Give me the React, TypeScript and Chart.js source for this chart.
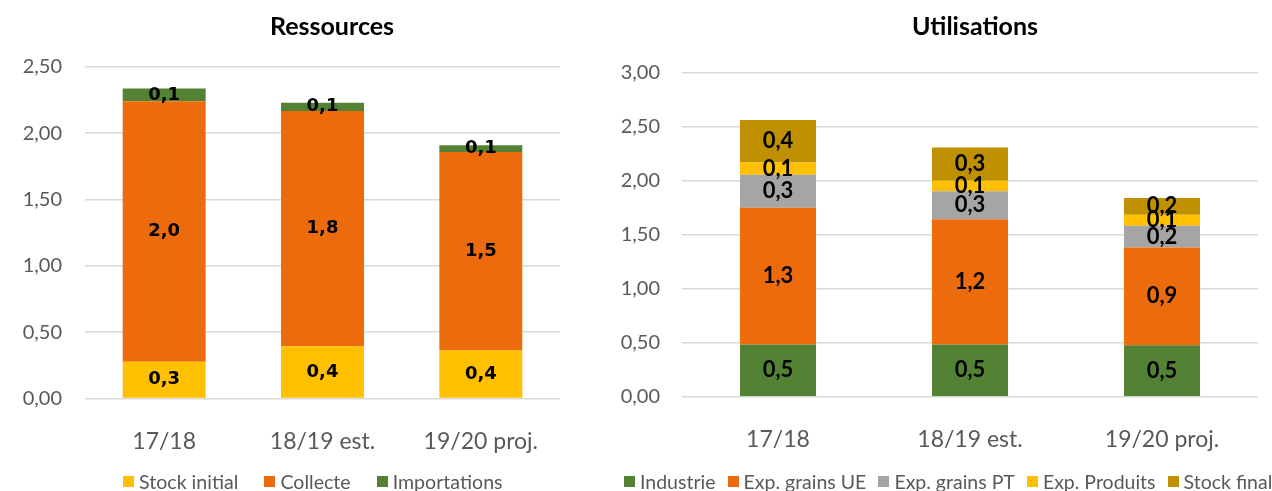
import React, { useEffect, useRef } from "react";
import { Chart, registerables } from "chart.js";

Chart.register(...registerables);

// ---------- Data ----------
const categories = ["17/18", "18/19 est.", "19/20 proj."];

const resSeriesNames = ["Stock initial", "Collecte", "Importations"];
const stockInitial = [0.276, 0.394, 0.362];
const collecte = [1.964, 1.773, 1.495];
const importations = [0.095, 0.062, 0.052];
const resColors = ["#FFC000", "#EC6C0D", "#548235"];
const resTicks = [0, 0.5, 1, 1.5, 2, 2.5];

const utilSeriesNames = ["Industrie", "Exp. grains UE", "Exp. grains PT", "Exp. Produits", "Stock final"];
const industrie = [0.483, 0.483, 0.477];
const expGrainsUE = [1.265, 1.158, 0.904];
const expGrainsPT = [0.306, 0.259, 0.2];
const expProduits = [0.111, 0.098, 0.102];
const stockFinal = [0.395, 0.306, 0.155];
const utilColors = ["#548235", "#EC6C0D", "#A5A5A5", "#FFC000", "#BF9000"];
const utilTicks = [0, 0.5, 1, 1.5, 2, 2.5, 3];

const fmt = (v: number, d: number) => v.toFixed(d).replace(".", ",");

const valueLabels = {
  id: "valueLabels",
  afterDatasetsDraw(chart: any, _args: any, opts: any) {
    const ctx = chart.ctx;
    ctx.save();
    ctx.font = opts.font;
    ctx.fillStyle = "#000000";
    ctx.textAlign = "center";
    ctx.textBaseline = "middle";
    chart.data.datasets.forEach((ds: any, i: number) => {
      const meta = chart.getDatasetMeta(i);
      meta.data.forEach((bar: any, j: number) => {
        const p = bar.getProps(["x", "y", "base"], true);
        ctx.fillText(fmt(ds.data[j], 1), p.x, (p.y + p.base) / 2 + (opts.dy || 0));
      });
    });
    ctx.restore();
  },
};

type Cfg = {
  width: number;
  height: number;
  names: string[];
  series: number[][];
  colors: string[];
  ticks: number[];
  barPct: number;
  padRight: number;
  padTop: number;
  yAxisWidth: number;
  xAxisHeight: number;
  yTickPad: number;
  labelFont: string;
};

function StackedBar({ cfg }: { cfg: Cfg }) {
  const ref = useRef<HTMLCanvasElement>(null);
  useEffect(() => {
    if (!ref.current) return;
    const chart = new Chart(ref.current, {
      type: "bar",
      data: {
        labels: categories,
        datasets: cfg.series.map((s, i) => ({
          label: cfg.names[i],
          data: s,
          backgroundColor: cfg.colors[i],
          borderWidth: 0,
          categoryPercentage: 1,
          barPercentage: cfg.barPct,
        })),
      },
      options: {
        responsive: false,
        animation: false,
        layout: { padding: { left: 0, right: cfg.padRight, top: cfg.padTop, bottom: 0 } },
        plugins: {
          legend: { display: false },
          title: { display: false },
          tooltip: { enabled: false },
          valueLabels: { font: cfg.labelFont },
        } as any,
        scales: {
          x: {
            stacked: true,
            grid: { display: false },
            border: { display: false },
            ticks: {
              color: "#595959",
              font: { family: "Lato", size: 23 },
              padding: 21,
              maxRotation: 0,
              autoSkip: false,
            },
            afterFit: (s: any) => {
              s.height = cfg.xAxisHeight;
            },
          },
          y: {
            stacked: true,
            min: cfg.ticks[0],
            max: cfg.ticks[cfg.ticks.length - 1],
            afterBuildTicks: (s: any) => {
              s.ticks = cfg.ticks.map((v) => ({ value: v }));
            },
            grid: { color: "#D9D9D9", lineWidth: 1.6, drawTicks: false },
            border: { display: false },
            ticks: {
              color: "#595959",
              font: { family: "Lato", size: 20 },
              padding: cfg.yTickPad,
              callback: (v: any) => fmt(Number(v), 2),
            },
            afterFit: (s: any) => {
              s.width = cfg.yAxisWidth;
            },
          },
        },
      },
      plugins: [valueLabels as any],
    });
    return () => chart.destroy();
  }, [cfg]);
  return <canvas ref={ref} width={cfg.width} height={cfg.height} style={{ display: "block" }} />;
}

const leftCfg: Cfg = {
  width: 600,
  height: 491,
  names: resSeriesNames,
  series: [stockInitial, collecte, importations],
  colors: resColors,
  ticks: resTicks,
  barPct: 0.524,
  padRight: 40,
  padTop: 66.7,
  yAxisWidth: 85,
  xAxisHeight: 491 - 398.5,
  yTickPad: 23,
  labelFont: "bold 18px 'DejaVu Sans'",
};

const rightCfg: Cfg = {
  width: 672,
  height: 491,
  names: utilSeriesNames,
  series: [industrie, expGrainsUE, expGrainsPT, expProduits, stockFinal],
  colors: utilColors,
  ticks: utilTicks,
  barPct: 0.396,
  padRight: 14,
  padTop: 72.3,
  yAxisWidth: 82,
  xAxisHeight: 491 - 396.8,
  yTickPad: 22,
  labelFont: "bold 22px Lato",
};

function Legend({
  names,
  colors,
  left,
  gap,
  size,
}: {
  names: string[];
  colors: string[];
  left: number;
  gap: number;
  size: number;
}) {
  return (
    <div
      style={{
        position: "absolute",
        left,
        top: 469,
        height: 24,
        display: "flex",
        alignItems: "center",
        whiteSpace: "nowrap",
        fontFamily: "Lato",
        fontSize: size,
        color: "#595959",
      }}
    >
      {names.map((n, i) => (
        <div key={n} style={{ display: "flex", alignItems: "center", marginRight: gap }}>
          <span style={{ display: "inline-block", width: 11, height: 11, background: colors[i], marginRight: 5 }} />
          <span>{n}</span>
        </div>
      ))}
    </div>
  );
}

function Title({ text, cx }: { text: string; cx: number }) {
  return (
    <div
      style={{
        position: "absolute",
        left: cx - 150,
        width: 300,
        top: 10,
        lineHeight: "30px",
        textAlign: "center",
        fontFamily: "Lato",
        fontWeight: 700,
        fontSize: 25,
        color: "#000",
      }}
    >
      {text}
    </div>
  );
}

export default function App() {
  return (
    <div
      style={{
        position: "fixed",
        left: 0,
        top: 0,
        width: 1272,
        height: 491,
        overflow: "hidden",
        background: "#fff",
      }}
    >
      <div style={{ position: "absolute", left: 0, top: 0 }}>
        <StackedBar cfg={leftCfg} />
      </div>
      <div style={{ position: "absolute", left: 600, top: 0 }}>
        <StackedBar cfg={rightCfg} />
      </div>
      <Title text="Ressources" cx={332} />
      <Title text="Utilisations" cx={975} />
      <Legend names={resSeriesNames} colors={resColors} left={123} gap={26} size={19.6} />
      <Legend names={utilSeriesNames} colors={utilColors} left={624} gap={12} size={19.5} />
    </div>
  );
}
